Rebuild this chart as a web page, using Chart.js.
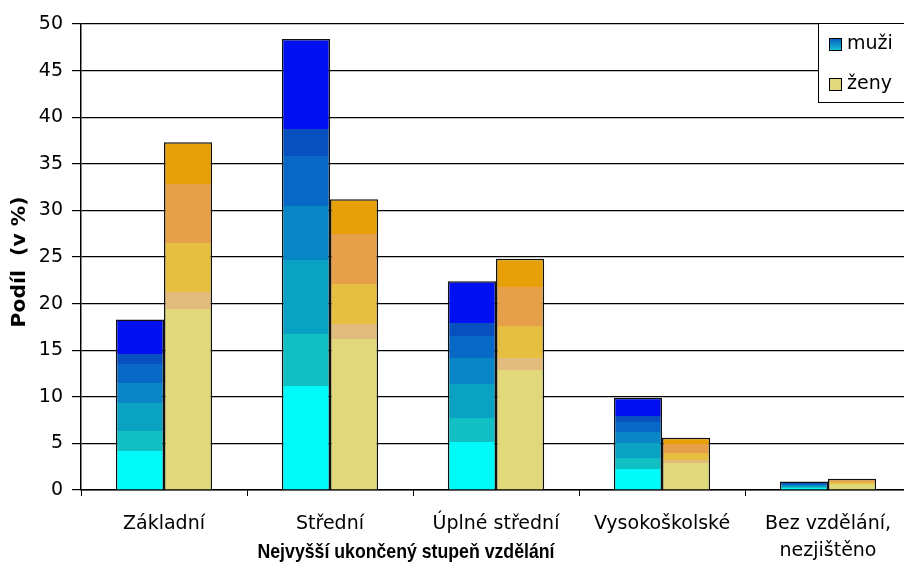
<!DOCTYPE html>
<html>
<head>
<meta charset="utf-8">
<script src="https://cdn.jsdelivr.net/npm/chart.js@4/dist/chart.umd.min.js"></script>
<style>
  html, body { margin: 0; padding: 0; background: #fff; overflow: hidden; }
  canvas { display: block; }
</style>
</head>
<body>
<canvas id="myGraph" width="920" height="573"></canvas>
<script>
const categories = ["Základní", "Střední", "Úplné střední", "Vysokoškolské", ["Bez vzdělání,", "nezjištěno"]];
const muzi = [18.3, 48.4, 22.4, 9.9, 0.9];
const zeny = [37.3, 31.2, 24.8, 5.6, 1.2];
const yTicks = [0, 5, 10, 15, 20, 25, 30, 35, 40, 45, 50];

// color bands as fractions of each bar's height (bottom -> top)
const bandsMuzi = [
   [0, 0.23, "#00FAFA"],
   [0.23, 0.345, "#12BFC2"],
   [0.345, 0.51, "#0AA2C2"],
   [0.51, 0.63, "#0886C6"],
   [0.63, 0.74, "#0868C6"],
   [0.74, 0.80, "#0850BE"],
   [0.80, 1, "#0010F0"]
];
const bandsZeny = [
   [0, 0.52, "#E0D87A"],
   [0.52, 0.57, "#E2BC7C"],
   [0.57, 0.71, "#E6BE40"],
   [0.71, 0.88, "#E6A04A"],
   [0.88, 1, "#E8A008"]
];

function bandFill(bands) {
   return function (context) {
      const chart = context.chart;
      if (!chart.chartArea || context.type !== "data") return bands[0][2];
      const y = chart.scales.y;
      const top = y.getPixelForValue(context.raw);
      const base = y.getPixelForValue(0);
      if (!isFinite(top) || top === base) return bands[0][2];
      const g = chart.ctx.createLinearGradient(0, base, 0, top);
      bands.forEach(b => {
         g.addColorStop(b[0], b[2]);
         g.addColorStop(b[1], b[2]);
      });
      return g;
   };
}

const FONT = '"DejaVu Sans", Verdana, sans-serif';

// draw text squeezed/stretched to a given width
function fitText(c, text, x, y, width) {
   const w = c.measureText(text).width;
   c.save();
   c.translate(x, y);
   c.scale(width / w, 1);
   c.fillText(text, 0, 0);
   c.restore();
}

const overlay = {
   id: "overlay",
   afterDraw(chart) {
      const c = chart.ctx;
      c.save();
      // axis titles
      c.fillStyle = "#000";
      c.textAlign = "center";
      c.textBaseline = "middle";
      c.font = 'bold 21px "Liberation Sans", Arial, sans-serif';
      fitText(c, "Nejvyšší ukončený stupeň vzdělání", 406, 552, 297);
      c.font = 'bold 19px ' + FONT;
      c.translate(20, 262);
      c.rotate(-Math.PI / 2);
      fitText(c, "Podíl  (v %)", 0, 0, 131);
      c.restore();

      // legend box
      c.save();
      c.fillStyle = "#fff";
      c.fillRect(818.5, 23.5, 100, 79);
      c.strokeStyle = "#000";
      c.lineWidth = 1;
      c.strokeRect(818.5, 23.5, 100, 79);
      const g1 = c.createLinearGradient(0, 51, 0, 38);
      g1.addColorStop(0, "#18C8D8");
      g1.addColorStop(1, "#0858C0");
      c.fillStyle = g1;
      c.fillRect(829.5, 38.5, 12, 12);
      c.strokeRect(829.5, 38.5, 12, 12);
      c.fillStyle = "#E0D87A";
      c.fillRect(829.5, 78.5, 12, 12);
      c.strokeRect(829.5, 78.5, 12, 12);
      c.fillStyle = "#000";
      c.font = '19px ' + FONT;
      c.textAlign = "left";
      c.textBaseline = "middle";
      c.fillText("muži", 847, 44);
      c.fillText("ženy", 847, 84);
      c.restore();
   }
};

const canvas = document.querySelector("#myGraph").getContext("2d");
let chart = new Chart(canvas, {
   type: "bar",
   data: {
      labels: categories,
      datasets: [
         {
            label: "muži",
            data: muzi,
            backgroundColor: bandFill(bandsMuzi),
            borderColor: "#111",
            borderWidth: 1.5
         },
         {
            label: "ženy",
            data: zeny,
            backgroundColor: bandFill(bandsZeny),
            borderColor: "#111",
            borderWidth: 1.5
         }
      ]
   },
   options: {
      responsive: false,
      animation: false,
      categoryPercentage: 0.58,
      barPercentage: 1,
      layout: { padding: { top: 24, right: 9, left: 0, bottom: 0 } },
      plugins: {
         legend: { display: false },
         tooltip: { enabled: false }
      },
      scales: {
         x: {
            afterFit: s => { s.height = 573 - 490; },
            grid: {
               drawOnChartArea: false,
               drawTicks: true,
               tickLength: 6,
               color: "#000"
            },
            border: { color: "#000", width: 1.5 },
            ticks: {
               color: "#000",
               padding: 15,
               maxRotation: 0,
               font: { family: FONT, size: 19, lineHeight: 1.42 }
            }
         },
         y: {
            min: 0,
            max: 50,
            afterFit: s => { s.width = 81; },
            afterBuildTicks: s => { s.ticks = yTicks.map(v => ({ value: v })); },
            grid: {
               color: "#000",
               lineWidth: 1.2,
               tickLength: 9
            },
            border: { color: "#000", width: 1.5 },
            ticks: {
               color: "#000",
               padding: 9,
               font: { family: FONT, size: 19 }
            }
         }
      }
   },
   plugins: [overlay]
});
</script>
</body>
</html>
